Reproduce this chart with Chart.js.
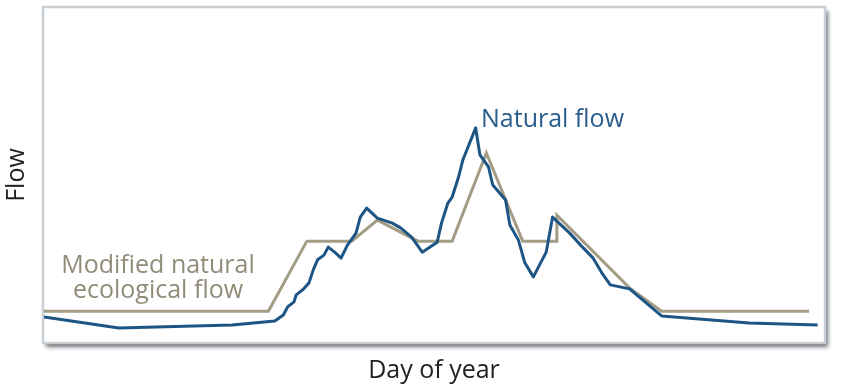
<!doctype html>
<html lang="en">
  <head>
    <meta charset="utf-8">
    <title>Natural vs modified flow</title>
    <style>
      * {
        margin: 0;
        padding: 0;
      }
      body {
        background: #fff;
        width: 847px;
        height: 390px;
        overflow: hidden;
      }
    </style>
  </head>
  <body>
    <canvas id="myChart" width="847" height="390"></canvas>
    <script src="https://cdn.jsdelivr.net/npm/chart.js/dist/chart.umd.min.js"></script>
    <script>

    // day of year / flow (arbitrary units, 0-100)
    const naturalDays = [0, 35, 88, 108, 112, 114, 117, 118, 121, 124, 126, 128, 131, 133, 136, 139, 142, 146, 148, 151,
      156, 163, 167, 172, 177, 184, 186, 189, 191, 194, 196, 202, 204, 208, 210, 216, 218, 222, 225, 229,
      235, 238, 246, 252, 257, 261, 265, 274, 289, 330, 362];
    const naturalFlow = [7.5, 4.2, 5.1, 6.3, 8.1, 10.5, 12.0, 14.1, 15.6, 17.7, 21.6, 24.6, 26.0, 28.4, 26.9, 25.1, 29.0, 32.6, 37.4, 40.1,
      37.1, 35.6, 34.1, 31.4, 26.9, 29.9, 35.6, 41.6, 43.4, 49.4, 54.5, 64.1, 56.0, 52.4, 47.0, 42.5, 35.0, 30.5, 23.7, 19.5,
      26.9, 37.4, 32.6, 28.4, 25.1, 20.7, 17.1, 15.9, 7.8, 5.7, 5.1];

    const modifiedDays = [0, 105, 123, 144, 156, 175, 191, 207, 224, 240, 240, 274, 289, 358];
    const modifiedFlow = [9.2, 9.2, 30.2, 30.2, 36.5, 30.2, 30.2, 56.6, 30.2, 30.2, 38.0, 16.2, 9.2, 9.2];

    const naturalLabel = 'Natural flow';
    const modifiedLabel = ['Modified natural', 'ecological flow'];

    const blue = '#1d5584';
    const tan = '#a39d86';
    const fontFamily = '"Open Sans", sans-serif';

    function toPoints(xs, ys) {
        return xs.map((x, i) => ({x: x, y: ys[i]}));
    }

    // white panel with border + drop shadow behind the plot
    const framePlugin = {
        id: 'frame',
        beforeDraw: (chart) => {
            const ctx = chart.ctx;
            const {left, top, right, bottom} = chart.chartArea;
            ctx.save();
            ctx.shadowColor = 'rgba(60, 66, 72, 0.75)';
            ctx.shadowBlur = 4;
            ctx.shadowOffsetX = 3;
            ctx.shadowOffsetY = 4;
            ctx.fillStyle = '#fff';
            ctx.fillRect(left - 1, top - 1, right - left + 2, bottom - top + 2);
            ctx.restore();
            ctx.save();
            ctx.strokeStyle = '#c9d0d5';
            ctx.lineWidth = 2.5;
            ctx.strokeRect(left - 1, top - 1, right - left + 2, bottom - top + 2);
            ctx.restore();
        }
    };

    const labelPlugin = {
        id: 'lineLabels',
        afterDatasetsDraw: (chart) => {
            const ctx = chart.ctx;
            ctx.save();
            ctx.font = '25px ' + fontFamily;
            ctx.textBaseline = 'alphabetic';
            ctx.fillStyle = '#2a5e8c';
            ctx.textAlign = 'left';
            ctx.fillText(naturalLabel, 481, 127);
            ctx.fillStyle = '#918c79';
            ctx.textAlign = 'center';
            ctx.fillText(modifiedLabel[0], 158, 273);
            ctx.fillText(modifiedLabel[1], 158, 298);
            ctx.restore();
        }
    };

    const ctx = document.getElementById('myChart');

    const data = {
        datasets: [
            {
                label: naturalLabel,
                data: toPoints(naturalDays, naturalFlow),
                borderColor: blue,
                borderWidth: 3,
                pointRadius: 0,
                tension: 0,
                borderJoinStyle: 'round'
            },
            {
                label: modifiedLabel.join(' '),
                data: toPoints(modifiedDays, modifiedFlow),
                borderColor: tan,
                borderWidth: 3,
                pointRadius: 0,
                tension: 0,
                borderJoinStyle: 'miter'
            }
        ]
    };

    const config = {
        type: 'line',
        data,
        options: {
            responsive: false,
            animation: false,
            devicePixelRatio: 1,
            layout: {
                padding: {top: 8, right: 23, left: 0, bottom: 0}
            },
            plugins: {
                legend: {display: false},
                tooltip: {enabled: false}
            },
            scales: {
                x: {
                    type: 'linear',
                    min: 0,
                    max: 365,
                    ticks: {display: false},
                    grid: {display: false},
                    border: {display: false},
                    title: {
                        display: true,
                        text: 'Day of year',
                        color: '#222',
                        font: {family: fontFamily, size: 25},
                        padding: {top: 0, bottom: 4}
                    },
                    afterFit: (scale) => { scale.height = 48; }
                },
                y: {
                    min: 0,
                    max: 100,
                    ticks: {display: false},
                    grid: {display: false},
                    border: {display: false},
                    title: {
                        display: true,
                        text: 'Flow',
                        color: '#222',
                        font: {family: fontFamily, size: 25},
                        padding: {top: 2, bottom: 0}
                    },
                    afterFit: (scale) => { scale.width = 44; }
                }
            }
        },
        plugins: [framePlugin, labelPlugin]
    };

    const myChart = new Chart(ctx, config);

    </script>
  </body>
</html>
